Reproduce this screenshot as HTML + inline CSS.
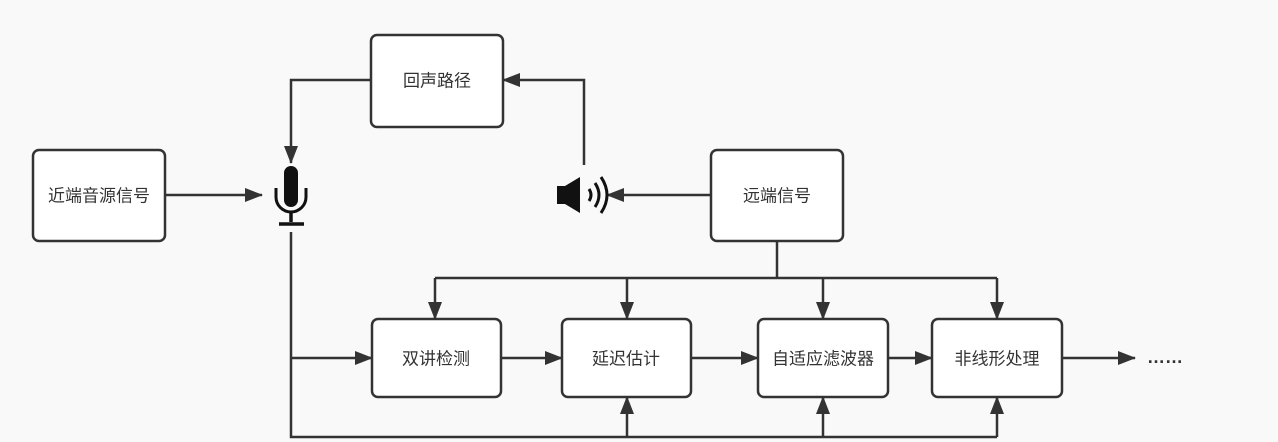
<!DOCTYPE html>
<html><head><meta charset="utf-8"><style>
body{margin:0;background:#f9f9f9;}
svg{display:block}
text{font-family:"Liberation Sans","Noto Sans CJK SC",sans-serif;font-size:17px;fill:#333;text-anchor:middle;dominant-baseline:central}
</style></head><body>
<svg width="1278" height="442" viewBox="0 0 1278 442">
<defs><marker id="b" markerWidth="18" markerHeight="14" refX="17" refY="7" orient="auto" markerUnits="userSpaceOnUse"><path d="M0,0 L18,7 L0,14 z" fill="#333"/></marker></defs>
<g fill="#fff" stroke="#333" stroke-width="2.5">
<rect x="371" y="35" width="132" height="92" rx="6"/>
<rect x="33" y="150" width="132" height="91" rx="6"/>
<rect x="711" y="150" width="132" height="91" rx="6"/>
<rect x="372" y="319" width="129" height="78" rx="6"/>
<rect x="562" y="319" width="129" height="78" rx="6"/>
<rect x="758" y="319" width="130" height="78" rx="6"/>
<rect x="932" y="319" width="130" height="78" rx="6"/>
</g>
<text x="437" y="81">回声路径</text>
<text x="99" y="196">近端音源信号</text>
<text x="777" y="196">远端信号</text>
<text x="436" y="359">双讲检测</text>
<text x="626" y="359">延迟估计</text>
<text x="823" y="359">自适应滤波器</text>
<text x="997" y="359">非线形处理</text>
<g stroke="#333" stroke-width="2.5" fill="none">
<path d="M371 80 H291 V163" marker-end="url(#b)"/>
<path d="M584 165 V80 H503" marker-end="url(#b)"/>
<path d="M711 195 H607" marker-end="url(#b)"/>
<path d="M165 195 H262" marker-end="url(#b)"/>
<path d="M291 232 V437 H997"/>
<path d="M291 358 H372" marker-end="url(#b)"/>
<path d="M501 358 H562" marker-end="url(#b)"/>
<path d="M691 358 H758" marker-end="url(#b)"/>
<path d="M888 358 H932" marker-end="url(#b)"/>
<path d="M1062 358 H1135" marker-end="url(#b)"/>
<path d="M777 241 V278"/>
<path d="M435 278 H997"/>
<path d="M435 278 V319" marker-end="url(#b)"/>
<path d="M627 278 V319" marker-end="url(#b)"/>
<path d="M823 278 V319" marker-end="url(#b)"/>
<path d="M997 278 V319" marker-end="url(#b)"/>
<path d="M627 437 V397" marker-end="url(#b)"/>
<path d="M823 437 V397" marker-end="url(#b)"/>
<path d="M997 437 V397" marker-end="url(#b)"/>
</g>
<rect x="284" y="166" width="14" height="41" rx="7" fill="#111"/>
<path d="M276 188 V197 a15 15 0 0 0 30 0 V188" stroke="#111" stroke-width="3" fill="none"/>
<path d="M291 212 V222 M279 224 H304" stroke="#111" stroke-width="3.5" fill="none"/>
<path d="M557 186 H565 L580 177 V213 L565 204 H557 z" fill="#111"/>
<path d="M589 189 q4 6 0 12 M595 183 q8 12 0 24 M601 177 q12 18 0 36" stroke="#111" stroke-width="3" fill="none"/>
<text x="1165" y="357" style="font-size:18px;font-weight:bold">……</text>
</svg>
</body></html>
